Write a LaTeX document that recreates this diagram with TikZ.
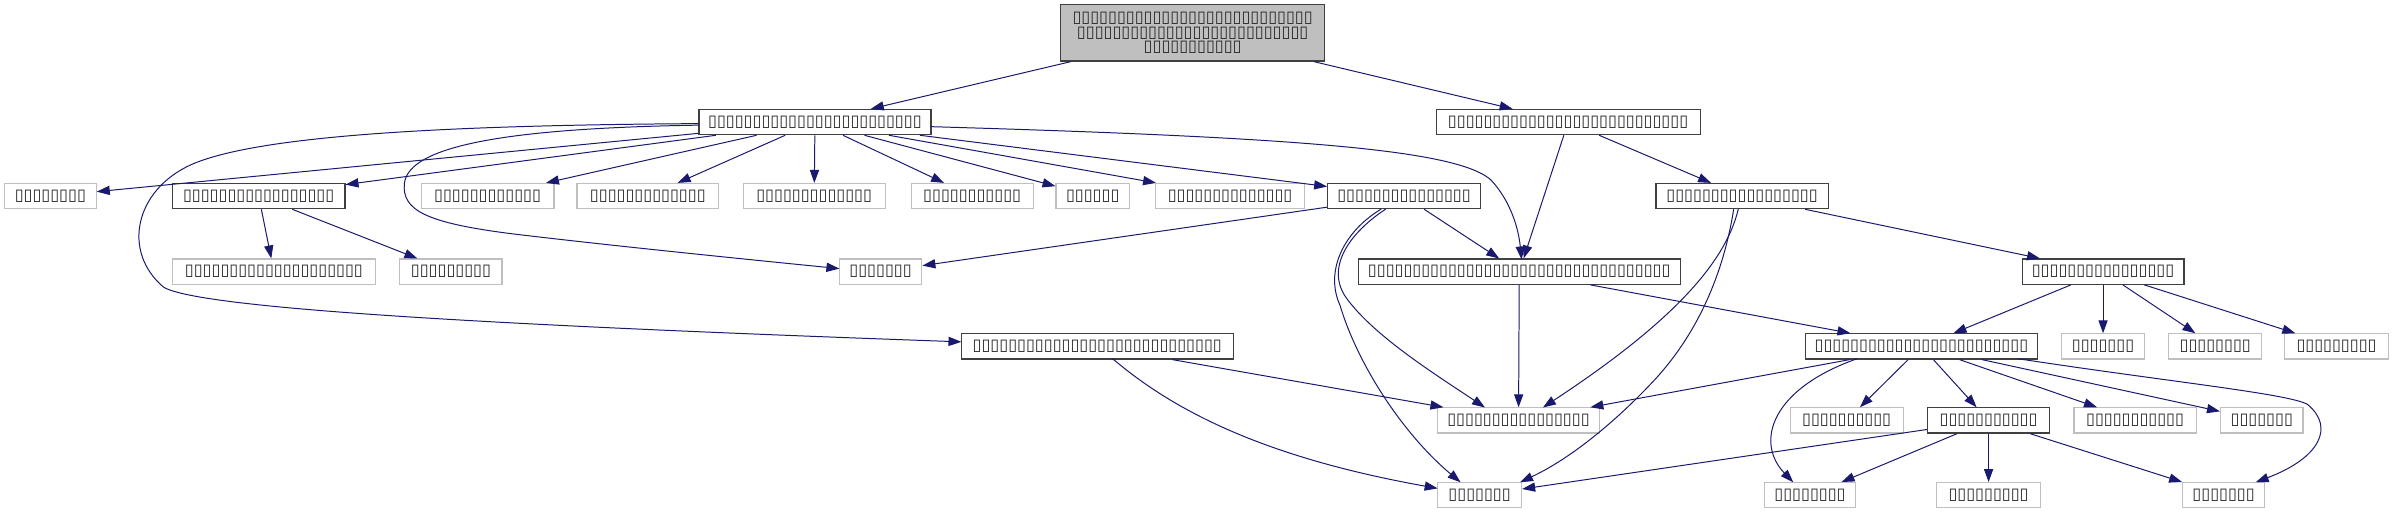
\documentclass[tikz,border=0pt]{standalone}
\usepackage{fontspec}
\newfontfamily\boxfont{DejaVu Sans}
\usetikzlibrary{arrows.meta}
\definecolor{edgeblue}{HTML}{191970}
\definecolor{nodegray}{HTML}{BFBFBF}
\definecolor{nodedark}{HTML}{404040}
\newcommand\boxrun[1]{\ifnum#1>0 ▯\expandafter\boxrun\expandafter{\the\numexpr#1-1\relax}\fi}
\begin{document}
\begin{tikzpicture}[x=1pt,y=-1pt,
  every node/.style={font=\boxfont\fontsize{10.6}{9.2}\selectfont, text=black!85, inner sep=0pt, minimum height=16.5pt, align=center},
  blk/.style={draw=nodedark, line width=0.8pt, fill=white},
  gry/.style={draw=nodegray, line width=0.8pt, fill=white},
  e/.style={draw=edgeblue, line width=0.65pt, -{Triangle[length=8.5pt,width=6pt]}}]
\fill[white] (0,0) rectangle (1568,337);
\useasboundingbox (0,0) rectangle (1568,337);
% nodes
\node[draw=nodedark, fill=nodegray, line width=0.8pt, minimum width=173pt, minimum height=37pt] (T) at (781.5,21.5) {\boxrun{27}\\\boxrun{26}\\\boxrun{11}};
\node[blk,minimum width=152pt] (A) at (534,80) {\boxrun{24}};
\node[blk,minimum width=173pt] (B) at (1027.5,80) {\boxrun{27}};
\node[gry,minimum width=60pt] (n1) at (33,128.5) {\boxrun{8}};
\node[blk,minimum width=113pt] (n2) at (169.5,128.5) {\boxrun{17}};
\node[gry,minimum width=87pt] (n3) at (319.5,128.5) {\boxrun{12}};
\node[gry,minimum width=93pt] (n4) at (424.5,128.5) {\boxrun{13}};
\node[gry,minimum width=93pt] (n5) at (533.5,128.5) {\boxrun{13}};
\node[gry,minimum width=80pt] (n6) at (637,128.5) {\boxrun{11}};
\node[gry,minimum width=48pt] (n7) at (716,128.5) {\boxrun{6}};
\node[gry,minimum width=98pt] (n8) at (806,128.5) {\boxrun{14}};
\node[blk,minimum width=100pt] (n9) at (920,128.5) {\boxrun{15}};
\node[blk,minimum width=113pt] (n10) at (1141.5,128.5) {\boxrun{17}};
\node[gry,minimum width=133pt] (s1) at (179.5,178) {\boxrun{20}};
\node[gry,minimum width=67pt] (s2) at (295.5,178) {\boxrun{9}};
\node[gry,minimum width=54pt] (m3) at (577,178) {\boxrun{7}};
\node[blk,minimum width=211pt] (m1) at (995.5,178) {\boxrun{34}};
\node[blk,minimum width=106pt] (m2) at (1378,178) {\boxrun{16}};
\node[blk,minimum width=178pt] (p1) at (719,227) {\boxrun{28}};
\node[blk,minimum width=152pt] (p2) at (1259,227) {\boxrun{24}};
\node[gry,minimum width=54pt] (g1) at (1378,227) {\boxrun{7}};
\node[gry,minimum width=61pt] (g2) at (1451.5,227) {\boxrun{8}};
\node[gry,minimum width=68pt] (g3) at (1531,227) {\boxrun{9}};
\node[gry,minimum width=106pt] (q0) at (995,275.5) {\boxrun{16}};
\node[gry,minimum width=74pt] (q1) at (1210,275.5) {\boxrun{10}};
\node[blk,minimum width=80pt] (q2) at (1303,275.5) {\boxrun{11}};
\node[gry,minimum width=80pt] (q3) at (1399,275.5) {\boxrun{11}};
\node[gry,minimum width=54pt] (q4) at (1482,275.5) {\boxrun{7}};
\node[gry,minimum width=55pt] (r0) at (969.5,324.5) {\boxrun{7}};
\node[gry,minimum width=60pt] (r1) at (1186,324.5) {\boxrun{8}};
\node[gry,minimum width=68pt] (r2) at (1303,324.5) {\boxrun{9}};
\node[gry,minimum width=54pt] (r3) at (1457,324.5) {\boxrun{7}};
% straight edges
\foreach \s/\t in {T/A,T/B,A/n1,A/n2,A/n3,A/n4,A/n5,A/n6,A/n7,A/n8,A/n9,n2/s1,n2/s2,n9/m3,n9/m1,B/m1,B/n10,n10/m2,m1/q0,m1/p2,m2/p2,m2/g1,m2/g2,m2/g3,p1/q0,p2/q0,p2/q1,p2/q2,p2/q3,p2/q4,q2/r0,q2/r1,q2/r2,q2/r3}
  \draw[e] (\s) -- (\t);
% curved edges
\draw[e] ([xshift=76pt,yshift=-3pt]A.center) .. controls (850,90) and (955,98) .. (977,118) .. controls (990,132) and (995,150) .. ([xshift=1.5pt,yshift=8pt]m1.center);
\draw[e] ([xshift=-76pt,yshift=-2pt]A.center) .. controls (330,84) and (268,96) .. (265,120) .. controls (263,138) and (280,146) .. (334,153) .. controls (400,161) and (500,171) .. ([xshift=-27pt,yshift=2pt]m3.center);
\draw[e] ([xshift=-76pt,yshift=-1pt]A.center) .. controls (300,82) and (170,88) .. (125,108) .. controls (88,125) and (80,165) .. (107,188) .. controls (130,203) and (350,214) .. ([xshift=-89pt,yshift=3pt]p1.center);
\draw[e] ([xshift=-12pt,yshift=-8.5pt]n9.center) .. controls (885,152) and (868,175) .. (882,195) .. controls (900,220) and (940,245) .. ([xshift=-22pt,yshift=8.5pt]q0.center);
\draw[e] ([xshift=-15pt,yshift=-8.5pt]n9.center) .. controls (880,152) and (868,178) .. (878,200) .. controls (890,240) and (920,285) .. ([xshift=-12.5pt,yshift=8.5pt]r0.center);
\draw[e] ([xshift=-2.5pt,yshift=-8.5pt]n10.center) .. controls (1130,175) and (1090,215) .. ([xshift=16pt,yshift=8.5pt]q0.center);
\draw[e] ([xshift=-5.5pt,yshift=-8.5pt]n10.center) .. controls (1130,175) and (1115,215) .. (1085,248) .. controls (1060,275) and (1030,300) .. ([xshift=26.5pt,yshift=8.5pt]r0.center);
\draw[e] ([xshift=10pt,yshift=-8pt]p1.center) .. controls (770,270) and (830,300) .. ([xshift=-27.5pt,yshift=4.5pt]r0.center);
\draw[e] ([xshift=-42pt,yshift=-8pt]p2.center) .. controls (1160,255) and (1150,290) .. ([xshift=-11pt,yshift=8.5pt]r1.center);
\draw[e] ([xshift=63pt,yshift=-8pt]p2.center) .. controls (1420,250) and (1500,258) .. (1512,265) .. controls (1530,280) and (1520,300) .. ([xshift=21pt,yshift=8.5pt]r3.center);
\end{tikzpicture}
\end{document}
